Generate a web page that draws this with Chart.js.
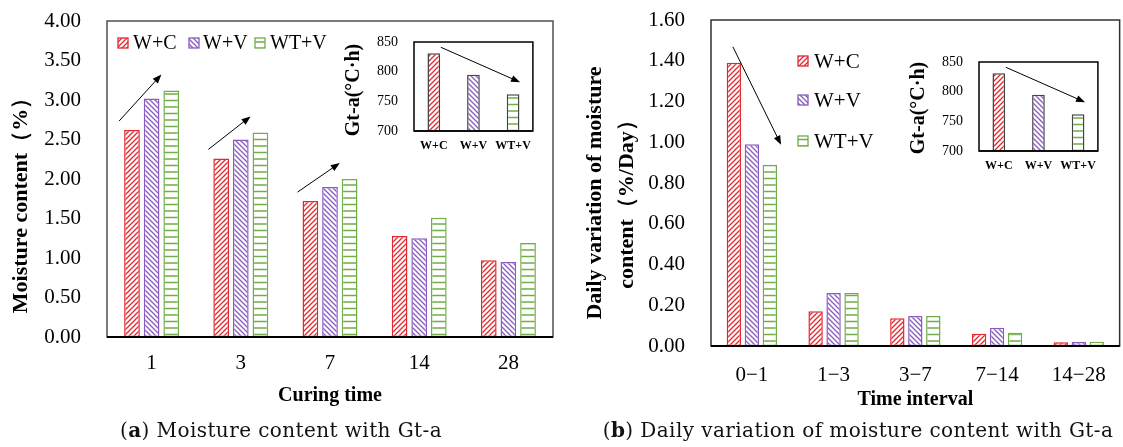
<!DOCTYPE html>
<html>
<head>
<meta charset="utf-8">
<script src="https://cdn.jsdelivr.net/npm/chart.js@4.4.0/dist/chart.umd.min.js"></script>
<style>
  html, body { margin: 0; padding: 0; background: #fff; }
  #wrap { position: relative; width: 1123px; height: 447px; overflow: hidden; }
  canvas { position: absolute; }
  .cap { position: absolute; top: 418px; font-family: "DejaVu Serif", serif; font-size: 20px; letter-spacing: 0.42px; color: #111; white-space: nowrap; transform: translateX(-50%); }
</style>
</head>
<body>
<div id="wrap">
  <canvas id="chartA" width="560" height="447" style="left:0;top:0"></canvas>
  <canvas id="insetA" width="200" height="135" style="left:340px;top:30px"></canvas>
  <canvas id="chartB" width="558" height="447" style="left:565px;top:0"></canvas>
  <canvas id="insetB" width="200" height="135" style="left:905px;top:50px"></canvas>
  <div class="cap" style="left:281px">(<b>a</b>) Moisture content with Gt-a</div>
  <div class="cap" style="left:858px">(<b>b</b>) Daily variation of moisture content with Gt-a</div>
</div>
<script>
// données
const curingTimes = ['1', '3', '7', '14', '28'];
const moistWC = [2.62, 2.26, 1.72, 1.28, 0.97];
const moistWV = [3.02, 2.50, 1.90, 1.25, 0.95];
const moistWTV = [3.12, 2.59, 2.00, 1.51, 1.19];

const intervals = ['0\u22121', '1\u22123', '3\u22127', '7\u221214', '14\u221228'];
const dailyWC = [1.39, 0.17, 0.136, 0.06, 0.018];
const dailyWV = [0.99, 0.26, 0.147, 0.09, 0.02];
const dailyWTV = [0.89, 0.26, 0.147, 0.065, 0.021];

const mixes = ['W+C', 'W+V', 'WT+V'];
const gtaValues = [831, 795, 762];

const serif = '"Liberation Serif", "Times New Roman", serif';
const RED = '#E0282E', PURPLE = '#8A5CC0', GREEN = '#70AD47';

// motifs hachurés (style Excel)
function makePattern(kind, color) {
    const c = document.createElement('canvas');
    const g = c.getContext('2d');
    if (kind === 'horiz') {
        c.width = 6; c.height = 13;
        g.fillStyle = '#fff'; g.fillRect(0, 0, 6, 13);
        g.strokeStyle = color; g.lineWidth = 1.5;
        g.beginPath();
        g.moveTo(0, 3); g.lineTo(6, 3);
        g.moveTo(0, 9.5); g.lineTo(6, 9.5);
        g.stroke();
    } else {
        const s = 5;
        c.width = s; c.height = s;
        g.fillStyle = '#fff'; g.fillRect(0, 0, s, s);
        g.strokeStyle = color; g.lineWidth = 1.3;
        g.beginPath();
        if (kind === 'fwd') {
            g.moveTo(-1, s + 1); g.lineTo(s + 1, -1);
            g.moveTo(-1, 1); g.lineTo(1, -1);
            g.moveTo(s - 1, s + 1); g.lineTo(s + 1, s - 1);
        } else {
            g.moveTo(-1, -1); g.lineTo(s + 1, s + 1);
            g.moveTo(s - 1, -1); g.lineTo(s + 1, 1);
            g.moveTo(-1, s - 1); g.lineTo(1, s + 1);
        }
        g.stroke();
    }
    return g.createPattern(c, 'repeat');
}

const series = [
    { label: 'W+C', color: RED, kind: 'fwd' },
    { label: 'W+V', color: PURPLE, kind: 'back' },
    { label: 'WT+V', color: GREEN, kind: 'horiz' }
];
series.forEach(s => { s.pattern = makePattern(s.kind, s.color); });

function drawArrow(ctx, x1, y1, x2, y2) {
    const ang = Math.atan2(y2 - y1, x2 - x1);
    const head = 9, half = 3.5;
    ctx.save();
    ctx.strokeStyle = '#000';
    ctx.fillStyle = '#000';
    ctx.lineWidth = 1;
    ctx.beginPath();
    ctx.moveTo(x1, y1);
    ctx.lineTo(x2 - head * 0.8 * Math.cos(ang), y2 - head * 0.8 * Math.sin(ang));
    ctx.stroke();
    ctx.translate(x2, y2);
    ctx.rotate(ang);
    ctx.beginPath();
    ctx.moveTo(0, 0);
    ctx.lineTo(-head, -half);
    ctx.lineTo(-head, half);
    ctx.closePath();
    ctx.fill();
    ctx.restore();
}

function drawText(ctx, text, x, y, font, rotate) {
    ctx.save();
    ctx.translate(x, y);
    if (rotate) ctx.rotate(rotate);
    ctx.font = font;
    ctx.fillStyle = '#000';
    ctx.textAlign = 'center';
    ctx.textBaseline = 'middle';
    ctx.fillText(text, 0, 0);
    ctx.restore();
}

// cadre du graphique + axe du bas
function framePlugin(color, width, bottomWidth) {
    return {
        id: 'frame',
        afterDatasetsDraw(chart) {
            const { ctx, chartArea: a } = chart;
            ctx.save();
            ctx.strokeStyle = color;
            ctx.lineWidth = width;
            ctx.strokeRect(a.left, a.top, a.right - a.left, a.bottom - a.top);
            ctx.strokeStyle = '#000';
            ctx.lineWidth = bottomWidth;
            ctx.beginPath();
            ctx.moveTo(a.left, a.bottom);
            ctx.lineTo(a.right, a.bottom);
            ctx.stroke();
            ctx.restore();
        }
    };
}

function legendPlugin(items, font) {
    return {
        id: 'customLegend',
        afterDraw(chart) {
            const ctx = chart.ctx;
            items.forEach((it, i) => {
                const s = series[i];
                ctx.save();
                ctx.fillStyle = s.pattern;
                ctx.fillRect(it.x, it.y - 5, 10, 10);
                ctx.strokeStyle = s.color;
                ctx.lineWidth = 1.3;
                ctx.strokeRect(it.x, it.y - 5, 10, 10);
                ctx.font = font;
                ctx.fillStyle = '#000';
                ctx.textAlign = 'left';
                ctx.textBaseline = 'middle';
                ctx.fillText(s.label, it.tx, it.y + 1);
                ctx.restore();
            });
        }
    };
}

function groupedDatasets(values) {
    return series.map((s, i) => ({
        label: s.label,
        data: values[i],
        backgroundColor: s.pattern,
        borderColor: s.color,
        borderWidth: 1.5,
        borderSkipped: false,
        categoryPercentage: 0.66,
        barPercentage: 0.8
    }));
}

// tickLength sert d'écart pour les étiquettes (padding gonflerait la marge haute)
function mainOptions(yMax, yStep, yWidth, xHeight, padTop, padRight, xPad) {
    return {
        responsive: false,
        animation: false,
        layout: { padding: { top: padTop, right: padRight, left: 0, bottom: 0 } },
        plugins: { legend: { display: false }, tooltip: { enabled: false } },
        scales: {
            x: {
                grid: { display: false, drawTicks: false },
                border: { display: false },
                ticks: { color: '#000', font: { family: serif, size: 21 }, padding: xPad, maxRotation: 0, autoSkip: false },
                afterFit: sc => { sc.height = xHeight; }
            },
            y: {
                min: 0, max: yMax,
                grid: { display: false, drawTicks: true, tickLength: 26 },
                border: { display: false },
                ticks: { stepSize: yStep, color: '#000', font: { family: serif, size: 21 }, padding: 0,
                         callback: v => Number(v).toFixed(2) },
                afterFit: sc => { sc.width = yWidth; }
            }
        }
    };
}

// ---- (a) teneur en eau ----
new Chart(document.getElementById('chartA'), {
    type: 'bar',
    data: { labels: curingTimes, datasets: groupedDatasets([moistWC, moistWV, moistWTV]) },
    options: mainOptions(4, 0.5, 107, 110, 21, 7, 14),
    plugins: [
        framePlugin('#505050', 1.5, 2),
        legendPlugin([{ x: 118, tx: 133, y: 43 }, { x: 189, tx: 203, y: 43 }, { x: 255, tx: 270, y: 43 }], '20px ' + serif),
        {
            id: 'arrowsA',
            afterDraw(chart) {
                const ctx = chart.ctx;
                const red = chart.getDatasetMeta(0).data;
                const green = chart.getDatasetMeta(2).data;
                for (let j = 0; j < 3; j++) {
                    drawArrow(ctx, red[j].x - red[j].width / 2 - 5, red[j].y - 9,
                              green[j].x - green[j].width / 2 - 2, green[j].y - 16);
                }
                drawText(ctx, 'Moisture content\uFF08%\uFF09', 21, 200, 'bold 22px ' + serif, -Math.PI / 2);
                drawText(ctx, 'Curing time', (chart.chartArea.left + chart.chartArea.right) / 2, 396, 'bold 20px ' + serif);
            }
        }
    ]
});

// ---- (b) variation journalière ----
new Chart(document.getElementById('chartB'), {
    type: 'bar',
    data: { labels: intervals, datasets: groupedDatasets([dailyWC, dailyWV, dailyWTV]) },
    options: mainOptions(1.6, 0.2, 146, 101, 20, 3, 17),
    plugins: [
        framePlugin('#303030', 1.5, 2),
        legendPlugin([{ x: 233, tx: 249, y: 61 }, { x: 233, tx: 249, y: 100 }, { x: 233, tx: 249, y: 141 }], '21px ' + serif),
        {
            id: 'arrowsB',
            afterDraw(chart) {
                const ctx = chart.ctx;
                const red = chart.getDatasetMeta(0).data[0];
                const green = chart.getDatasetMeta(2).data[0];
                drawArrow(ctx, red.x - 1, red.y - 16, green.x + green.width / 2 + 4, green.y - 20);
                drawText(ctx, 'Daily variation of moisture', 30, 193, 'bold 22px ' + serif, -Math.PI / 2);
                drawText(ctx, 'content\uFF08%/Day\uFF09', 62, 199, 'bold 22px ' + serif, -Math.PI / 2);
                drawText(ctx, 'Time interval', (chart.chartArea.left + chart.chartArea.right) / 2, 400, 'bold 20px ' + serif);
            }
        }
    ]
});

// ---- encarts Gt-a ----
function makeInset(id, titleY) {
    new Chart(document.getElementById(id), {
        type: 'bar',
        data: {
            labels: mixes,
            datasets: [{
                data: gtaValues,
                backgroundColor: series.map(s => s.pattern),
                borderColor: '#444',
                borderWidth: 1.5,
                borderSkipped: false,
                categoryPercentage: 1,
                barPercentage: 0.32
            }]
        },
        options: {
            responsive: false,
            animation: false,
            layout: { padding: { top: 12, right: 7, left: 0, bottom: 0 } },
            plugins: { legend: { display: false }, tooltip: { enabled: false } },
            scales: {
                x: {
                    grid: { display: false, drawTicks: false },
                    border: { display: false },
                    ticks: { color: '#000', font: { family: serif, size: 12, weight: 'bold' }, padding: 8, maxRotation: 0, autoSkip: false },
                    afterFit: sc => { sc.height = 34; }
                },
                y: {
                    min: 700, max: 850,
                    grid: { display: false, drawTicks: true, tickLength: 16 },
                    border: { display: false },
                    ticks: { stepSize: 50, color: '#000', font: { family: serif, size: 14 }, padding: 0 },
                    afterFit: sc => { sc.width = 74; }
                }
            }
        },
        plugins: [
            framePlugin('#000', 1.5, 1.5),
            {
                id: 'insetDeco',
                afterDraw(chart) {
                    const ctx = chart.ctx;
                    const bars = chart.getDatasetMeta(0).data;
                    drawArrow(ctx, bars[0].x + 7, bars[0].y - 6, bars[2].x + 7, bars[2].y - 12);
                    drawText(ctx, 'Gt-a(\u00B0C\u00B7h)', 14, titleY, 'bold 20px ' + serif, -Math.PI / 2);
                }
            }
        ]
    });
}
makeInset('insetA', 60);
makeInset('insetB', 58);
</script>
</body>
</html>
